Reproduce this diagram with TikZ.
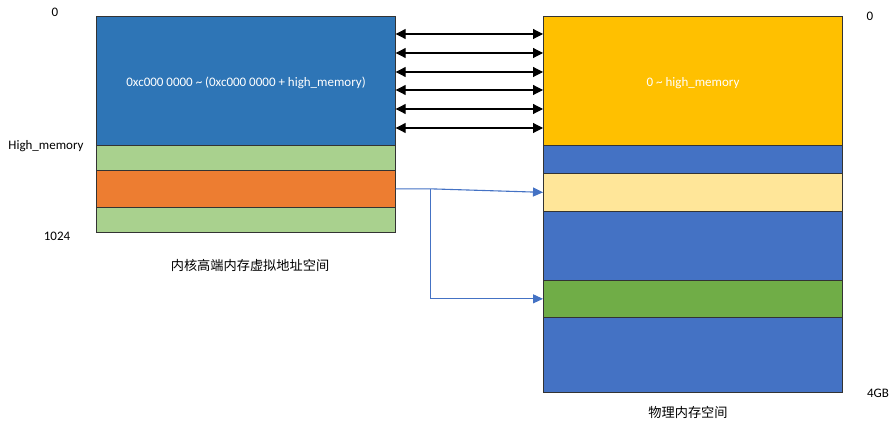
\documentclass[tikz,border=0pt]{standalone}
\usepackage{fontspec}
\setmainfont{Carlito}
\newfontfamily\cjk{Noto Sans CJK SC}
\usetikzlibrary{arrows.meta, calc}

\definecolor{vblue}{HTML}{2E75B6}
\definecolor{vgreen}{HTML}{A9D18E}
\definecolor{vorange}{HTML}{ED7D31}
\definecolor{pyellow}{HTML}{FFC000}
\definecolor{pblue}{HTML}{4472C4}
\definecolor{plight}{HTML}{FFE699}
\definecolor{pgreen}{HTML}{70AD47}

\begin{document}
\begin{tikzpicture}[x=1pt, y=-1pt, font=\fontsize{13}{15}\selectfont,
		band/.style={draw=black!80, line width=0.7pt, anchor=north west, minimum width=299pt, inner sep=0pt},
		label/.style={inner sep=0pt},
		map/.style={{Triangle[length=10pt,width=10pt]}-{Triangle[length=10pt,width=10pt]}, line width=1.1pt},
		jump/.style={pblue, line width=1.1pt, -{Triangle[length=10pt,width=9pt]}}]
			\useasboundingbox (0,0) rectangle (896,427);
			% kernel virtual address space
			\node[band, fill=vblue, minimum height=129pt] (vlow) at (96,16) {};
			\node[band, fill=vgreen, minimum height=25pt] (vgreenA) at (96,145) {};
			\node[band, fill=vorange, minimum height=37pt] (vhigh) at (96,170) {};
			\node[band, fill=vgreen, minimum height=25pt] (vgreenB) at (96,207) {};
			\node[label, text=white] at (246,83) {0xc000 0000 \textasciitilde{} (0xc000 0000 + high\_memory)};
			\node[label] (vzero) at (55,12) {0};
			\node[label] (vhm) at (46,146) {High\_memory};
			\node[label] (vend) at (57,236) {1024};
			\node[label, font=\cjk\fontsize{13.2}{15}\selectfont] (vname) at (250,265) {内核高端内存虚拟地址空间};
			% physical memory
			\node[band, fill=pyellow, minimum height=129pt] (plow) at (543,16) {};
			\node[band, fill=pblue, minimum height=28pt] (pblueA) at (543,145) {};
			\node[band, fill=plight, minimum height=38pt] (pmapA) at (543,173) {};
			\node[band, fill=pblue, minimum height=69pt] (pblueB) at (543,211) {};
			\node[band, fill=pgreen, minimum height=37pt] (pmapB) at (543,280) {};
			\node[band, fill=pblue, minimum height=75pt] (pblueC) at (543,317) {};
			\node[label, text=white] at (693,83) {0 \textasciitilde{} high\_memory};
			\node[label] (pzero) at (870,16) {0};
			\node[label] (pend) at (878,393) {4GB};
			\node[label, font=\cjk\fontsize{13.2}{15}\selectfont] (pname) at (688,412) {物理内存空间};
			% linear mapping
			\foreach \y in {34,53,72,90,109,128}
				\draw[map] (vlow.east |- 0,\y) -- (plow.west |- 0,\y);
			% high memory pages
			\draw[jump] (vhigh.east) -- ++(35,0) coordinate (split) -- (pmapA.west);
			\draw[jump] (split) |- (pmapB.west);
		\end{tikzpicture}
\end{document}
